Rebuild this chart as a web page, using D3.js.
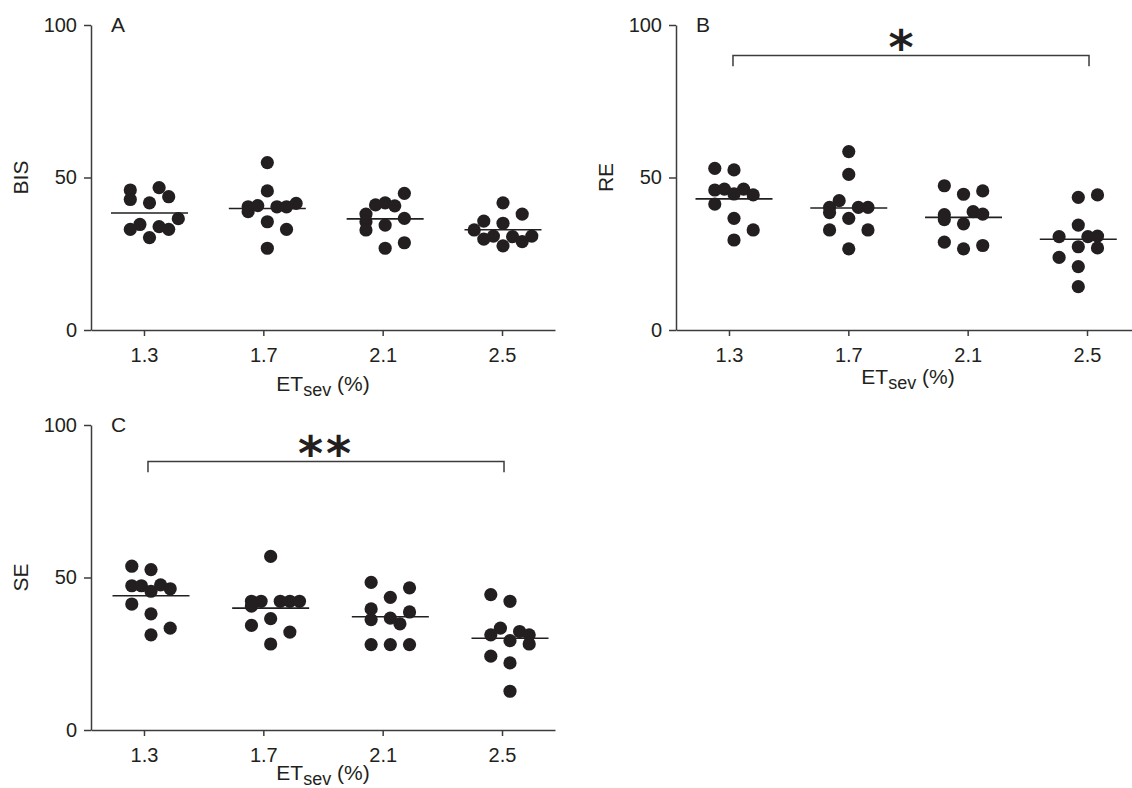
<!DOCTYPE html>
<html>
<head>
<meta charset="utf-8">
<script src="https://cdn.jsdelivr.net/npm/d3@7"></script>
<style>
  body { margin: 0; background: #fff; }
  svg { display: block; font-family: "Liberation Sans", Arial, Helvetica, sans-serif; }
</style>
</head>
<body>
<svg id="chart" width="1132" height="788"></svg>
<script>
// ET sevoflurane groups (%)
const categories = ['1.3', '1.7', '2.1', '2.5'];
const yTicks = [0, 50, 100];

// A - BIS, one array per group; slots = column of each dot in the scatter
const bisValues = [
    [45.9, 42.8, 46.7, 43.7, 41.7, 36.5, 33.0, 34.6, 33.9, 33.0, 30.3],
    [54.9, 45.6, 40.4, 38.8, 40.8, 40.4, 40.4, 41.5, 35.5, 33.0, 26.8],
    [44.8, 41.0, 41.7, 40.7, 38.0, 35.5, 32.8, 34.4, 36.6, 26.8, 28.6],
    [41.7, 38.0, 35.7, 35.0, 32.8, 29.8, 30.8, 27.6, 30.6, 29.0, 30.8]
];
const bisSlots = [
    [-2, -2, 1, 2, 0, 3, -2, -1, 1, 2, 0],
    [0, 0, -2, -2, -1, 1, 2, 3, 0, 2, 0],
    [2, -1, 0, 1, -2, -2, -2, 0, 2, 0, 2],
    [0, 2, -2, 0, -3, -2, -1, 0, 1, 2, 3]
];

// B - RE
const reValues = [
    [53.0, 52.5, 45.9, 46.2, 46.2, 44.6, 44.3, 41.3, 36.6, 32.8, 29.5],
    [58.5, 51.0, 42.4, 40.2, 38.5, 40.2, 40.2, 36.6, 32.8, 32.8, 26.6],
    [47.3, 44.5, 45.6, 38.8, 38.0, 37.8, 36.2, 34.8, 28.8, 26.6, 27.7],
    [43.5, 44.3, 34.4, 30.6, 30.6, 30.8, 27.3, 26.9, 23.8, 20.8, 14.2]
];
const reSlots = [
    [-2, 0, -2, -1, 1, 0, 2, -2, 0, 2, 0],
    [0, 0, -1, -2, -2, 1, 2, 0, -2, 2, 0],
    [-2, 0, 2, 1, 2, -2, -2, 0, -2, 0, 2],
    [0, 2, 0, -2, 1, 2, 0, 2, -2, 0, 0]
];

// C - SE
const seValues = [
    [53.7, 52.6, 47.3, 47.3, 47.6, 45.5, 46.3, 41.3, 38.1, 33.4, 31.2],
    [56.9, 42.2, 42.2, 40.6, 42.2, 42.2, 42.2, 36.5, 34.3, 32.1, 28.2],
    [48.4, 46.6, 43.5, 39.7, 38.7, 36.2, 36.7, 34.8, 28.0, 28.0, 28.0],
    [44.4, 42.2, 33.4, 31.2, 32.3, 31.2, 29.3, 28.2, 24.2, 22.0, 12.7]
];
const seSlots = [
    [-2, 0, -2, -1, 1, 0, 2, -2, 0, 2, 0],
    [0, -2, -1, -2, 1, 2, 3, 0, -2, 2, 0],
    [-2, 2, 0, -2, 2, -2, 0, 1, -2, 0, 2],
    [-2, 0, -1, -2, 1, 2, 0, 2, -2, 0, 0]
];

// significance brackets (1.3 vs 2.5)
const reBracket = { from: '1.3', to: '2.5', top: 90, bottom: 86.5, label: '*' };
const seBracket = { from: '1.3', to: '2.5', top: 88, bottom: 84.5, label: '**' };

const INK = '#231f20';
const AXIS = '#3c3c3c';
const slotStep = 9.6;
const dotR = 6.6;

const svg = d3.select('#chart');
svg.append('rect').attr('width', 1132).attr('height', 788).attr('fill', '#fff');

const panels = [
    { letter: 'A', yLabel: 'BIS', left: 91, top: 25, marks: [58.5, 412], values: bisValues, slots: bisSlots, xLabelGap: 61, bracket: null },
    { letter: 'B', yLabel: 'RE', left: 676, top: 25, marks: [58, 402.3], values: reValues, slots: reSlots, xLabelGap: 54, bracket: reBracket, starDx: -10 },
    { letter: 'C', yLabel: 'SE', left: 91, top: 425, marks: [60, 419], values: seValues, slots: seSlots, xLabelGap: 50, bracket: seBracket, starDx: 0 }
];

const W = 464, H = 305;

/**
 * Draw one scatter panel
 */
function drawPanel(p) {
    const g = svg.append('g').attr('transform', `translate(${p.left},${p.top})`);

    const y = d3.scaleLinear().domain([0, 100]).range([H, 0]);
    const x = d3.scalePoint().domain(categories).range([0, W]).padding(0.444);
    // dot groups sit a little off the tick marks in the original
    const xm = d3.scalePoint().domain(categories).range(p.marks);

    // Axes
    const yAxis = g.append('g')
        .call(d3.axisLeft(y).tickValues(yTicks).tickSize(7).tickPadding(7).tickSizeOuter(0));
    const xAxis = g.append('g')
        .attr('transform', `translate(0,${H})`)
        .call(d3.axisBottom(x).tickSize(6).tickPadding(12).tickSizeOuter(0));

    [yAxis, xAxis].forEach(a => {
        a.selectAll('path, line').attr('stroke', AXIS).attr('stroke-width', 1.5);
        a.selectAll('text').attr('fill', INK).style('font-size', '20px');
    });

    // Mean lines
    g.append('g')
        .selectAll('line')
        .data(categories)
        .enter()
        .append('line')
        .attr('x1', c => xm(c) - 38.5)
        .attr('x2', c => xm(c) + 38.5)
        .attr('y1', (c, i) => y(d3.mean(p.values[i])))
        .attr('y2', (c, i) => y(d3.mean(p.values[i])))
        .attr('stroke', INK)
        .attr('stroke-width', 1.6);

    // Dots
    const points = categories.flatMap((c, i) =>
        p.values[i].map((v, j) => ({ c, v, s: p.slots[i][j] })));
    g.append('g')
        .selectAll('circle')
        .data(points)
        .enter()
        .append('circle')
        .attr('cx', d => xm(d.c) + d.s * slotStep)
        .attr('cy', d => y(d.v))
        .attr('r', dotR)
        .attr('fill', INK);

    // Panel letter
    g.append('text')
        .attr('x', 20)
        .attr('y', 7.3)
        .attr('fill', INK)
        .style('font-size', '21px')
        .text(p.letter);

    // Y label
    g.append('text')
        .attr('transform', `translate(-63,${H / 2}) rotate(-90)`)
        .attr('text-anchor', 'middle')
        .attr('fill', INK)
        .style('font-size', '21px')
        .text(p.yLabel);

    // X label with subscript
    const xl = g.append('text')
        .attr('x', W / 2)
        .attr('y', H + p.xLabelGap)
        .attr('text-anchor', 'middle')
        .attr('fill', INK)
        .style('font-size', '21px');
    xl.append('tspan').text('ET');
    xl.append('tspan').attr('dy', 5).style('font-size', '18px').text('sev');
    xl.append('tspan').attr('dy', -5).text(' (%)');

    // Significance bracket
    if (p.bracket) {
        const b = p.bracket;
        const x1 = x(b.from) + 4, x2 = x(b.to) + 2;
        g.append('path')
            .attr('d', `M${x1},${y(b.bottom)}V${y(b.top)}H${x2}V${y(b.bottom)}`)
            .attr('fill', 'none')
            .attr('stroke', AXIS)
            .attr('stroke-width', 1.5);
        g.append('text')
            .attr('x', (x1 + x2) / 2 + p.starDx)
            .attr('y', y(b.top) + 8)
            .attr('text-anchor', 'middle')
            .attr('fill', INK)
            .style('font-family', '"DejaVu Sans", sans-serif')
            .style('font-weight', 'bold')
            .style('font-size', '48px')
            .style('letter-spacing', b.label.length > 1 ? '3px' : '0px')
            .text(b.label);
    }
}

panels.forEach(drawPanel);
</script>
</body>
</html>
